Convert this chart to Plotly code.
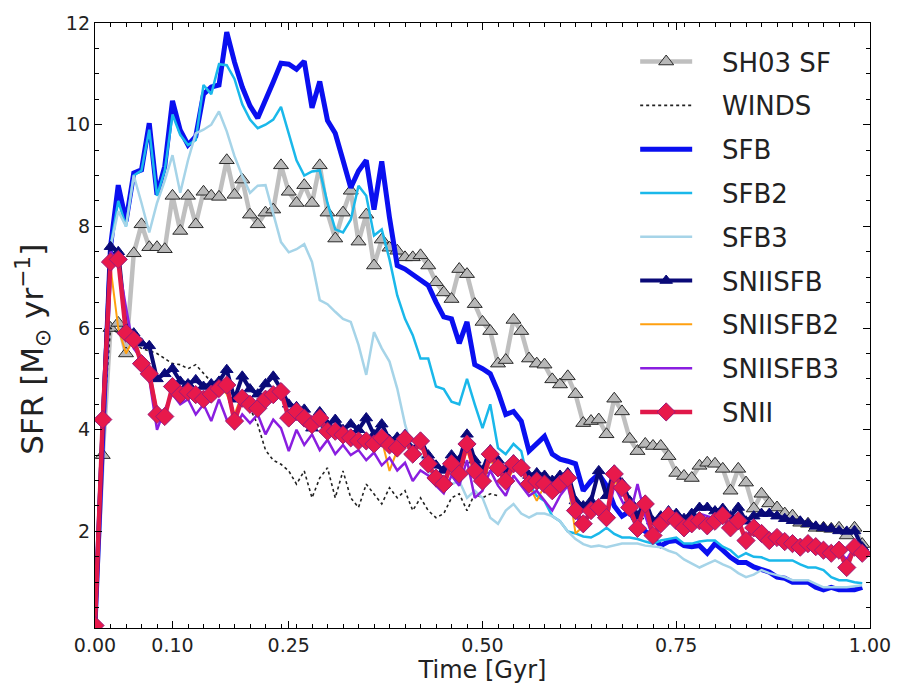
import numpy as np
import plotly.graph_objects as go

time = np.round(np.arange(100) * 0.01, 2)

sh03_sf = [0.2, 3.5, 6.0, 6.1, 5.5, 7.47, 8.04, 7.59, 7.59, 7.55,
           8.6, 7.91, 8.6, 8.04, 8.68, 8.6, 8.58, 9.3, 8.62, 8.92,
           8.23, 8.04, 8.27, 8.33, 9.2, 8.68, 8.46, 8.81, 8.46, 9.2,
           8.27, 7.76, 8.27, 8.7, 7.7, 8.23, 7.23, 7.74, 7.58, 7.52,
           7.39, 7.39, 7.43, 7.23, 6.9, 6.7, 6.57, 7.16, 7.06, 6.47,
           6.12, 5.94, 5.3, 5.37, 6.16, 5.94, 5.4, 5.3, 5.28, 4.99,
           4.89, 5.05, 4.7, 4.13, 4.17, 4.2, 3.91, 4.61, 4.36, 3.82,
           3.58, 3.72, 3.68, 3.68, 3.48, 3.15, 3.09, 3.05, 3.29, 3.35,
           3.33, 3.23, 2.8, 3.23, 2.96, 2.45, 2.74, 2.55, 2.47, 2.35,
           2.31, 2.17, 2.15, 2.07, 2.07, 2.05, 2.07, 1.92, 2.07, 1.75]

winds = [0.2, 4.0, 6.0, 5.9, 5.8, 5.7, 5.6, 5.55, 5.5, 5.4,
         5.3, 5.28, 5.2, 5.28, 5.1, 4.94, 4.88, 4.8, 4.68, 4.55,
         4.42, 4.1, 3.6, 3.4, 3.32, 3.19, 2.93, 3.19, 2.66, 3.05,
         3.25, 2.66, 3.19, 2.66, 2.47, 2.93, 2.74, 2.54, 2.86, 2.66,
         2.8, 2.41, 2.66, 2.41, 2.27, 2.35, 2.66, 2.74, 2.41, 2.74,
         2.66, 2.74, 2.7]

sfb = [0.15, 4.2, 7.6, 8.81, 8.1, 9.05, 9.11, 10.03, 8.62, 9.18,
       10.47, 9.89, 9.6, 9.77, 10.6, 10.74, 10.78, 11.82, 11.23, 10.74,
       10.37, 10.13, 10.47, 10.84, 11.21, 11.19, 11.09, 11.25, 10.33, 10.85,
       10.08, 9.83, 9.3, 8.76, 9.09, 9.3, 8.33, 9.28, 8.17, 7.23,
       7.16, 7.06, 6.96, 6.84, 6.51, 6.22, 6.18, 5.7, 6.12, 5.28,
       5.2, 5.1, 4.75, 4.3, 4.36, 4.17, 3.58, 3.74, 3.87, 3.52,
       3.42, 3.38, 3.33, 2.8, 2.99, 3.13, 2.9, 2.5, 2.3, 2.4,
       2.1, 2.0, 1.88, 1.72, 1.8, 1.82, 1.72, 1.7, 1.72, 1.57,
       1.76, 1.63, 1.49, 1.39, 1.39, 1.3, 1.24, 1.2, 1.1, 1.08,
       1.0, 1.0, 1.0, 0.9, 0.85, 0.9, 0.85, 0.85, 0.85, 0.9]

sfb2 = [0.15, 4.2, 7.6, 8.5, 8.0, 9.0, 9.1, 9.9, 8.6, 9.1,
        10.2, 9.8, 9.6, 9.7, 10.78, 10.6, 11.19, 11.17, 10.9, 10.4,
        10.1, 9.93, 10.0, 10.1, 10.35, 9.8, 9.3, 9.0, 9.08, 9.1,
        8.46, 7.94, 7.88, 8.13, 8.8, 8.6, 7.82, 7.94, 7.35, 6.64,
        6.18, 5.86, 5.4, 5.4, 4.85, 4.8, 4.55, 4.5, 5.0, 4.5,
        4.03, 4.5, 3.64, 3.52, 3.72, 3.58, 2.93, 2.7, 2.6, 2.3,
        2.2, 2.0, 1.96, 1.9, 1.88, 1.96, 2.07, 1.95, 1.88, 1.88,
        1.85, 1.8, 1.76, 1.82, 1.85, 1.88, 1.76, 1.76, 1.8, 1.82,
        1.82, 1.7, 1.63, 1.49, 1.57, 1.5, 1.49, 1.43, 1.43, 1.43,
        1.43, 1.35, 1.29, 1.29, 1.24, 1.1, 1.04, 1.04, 1.0, 0.98]

sfb3 = [0.15, 4.2, 7.6, 8.3, 8.0, 9.0, 8.46, 7.88, 8.46, 8.9,
        9.4, 8.66, 9.3, 9.83, 9.9, 10.0, 10.26, 9.87, 9.38, 8.99,
        8.66, 8.8, 8.81, 8.27, 7.69, 7.49, 7.55, 7.65, 7.3, 6.55,
        6.47, 6.32, 6.18, 6.12, 5.67, 5.08, 5.92, 5.6, 5.34, 4.81,
        4.11, 3.58, 3.52, 3.19, 2.99, 2.8, 2.93, 2.99, 2.66, 2.8,
        2.66, 2.27, 2.15, 2.41, 2.54, 2.35, 2.27, 2.35, 2.35, 2.3,
        2.2, 2.0, 1.85, 1.75, 1.7, 1.72, 1.69, 1.72, 1.76, 1.76,
        1.76, 1.72, 1.7, 1.69, 1.62, 1.57, 1.45, 1.37, 1.29, 1.36,
        1.43, 1.35, 1.29, 1.18, 1.1, 1.15, 1.24, 1.18, 1.14, 1.1,
        1.04, 1.04, 1.04, 0.97, 0.9, 0.9, 0.9, 0.9, 0.92, 0.94]

sniisfb = [0.15, 4.2, 7.6, 7.5, 6.0, 5.9, 5.7, 5.65, 5.0, 5.1,
           5.2, 4.95, 4.9, 4.98, 4.85, 4.9, 4.95, 5.18, 4.6, 5.05,
           4.8, 4.7, 4.9, 5.05, 4.8, 4.5, 4.45, 4.4, 4.03, 4.35,
           4.1, 4.2, 4.0, 4.11, 4.0, 4.23, 3.9, 4.11, 3.8, 3.85,
           3.9, 3.6, 3.8, 3.5, 3.3, 3.2, 3.5, 3.4, 3.91, 3.4,
           3.2, 3.6, 3.4, 3.2, 3.4, 3.3, 3.1, 3.15, 3.1, 3.0,
           3.1, 3.15, 2.6, 2.5, 2.6, 3.19, 2.7, 3.2, 2.95, 2.6,
           2.3, 2.6, 2.2, 2.3, 2.4, 2.35, 2.25, 2.35, 2.47, 2.47,
           2.4, 2.45, 2.3, 2.47, 2.2, 2.3, 2.35, 2.35, 2.3, 2.25,
           2.21, 2.2, 2.15, 2.1, 2.07, 2.05, 2.01, 2.0, 2.01, 1.69]

sniisfb2 = [0.15, 4.1, 7.2, 6.0, 5.5, 5.8, 5.4, 5.2, 4.4, 4.3,
            4.8, 4.6, 4.7, 4.6, 4.65, 4.75, 4.85, 4.7, 4.3, 4.7,
            4.55, 4.5, 4.65, 4.8, 4.7, 4.3, 4.3, 4.2, 4.0, 4.15,
            3.95, 3.9, 3.85, 3.8, 3.8, 3.7, 3.75, 3.8, 3.19, 3.6,
            3.75, 3.5, 3.7, 3.3, 3.0, 2.8, 3.3, 3.1, 3.6, 3.1,
            2.9, 3.4, 3.2, 2.9, 3.25, 3.2, 2.9, 2.6, 2.9, 2.75,
            2.9, 3.0, 1.96, 2.1, 2.35, 2.4, 2.2, 3.0, 2.8, 2.4,
            2.0, 2.5, 1.9, 2.1, 2.25, 2.2, 2.05, 2.1, 2.2, 2.1,
            2.2, 2.25, 2.0, 2.2, 1.8, 2.0, 1.95, 1.8, 1.85, 1.75,
            1.7, 1.65, 1.7, 1.65, 1.6, 1.55, 1.6, 1.3, 1.65, 1.55]

sniisfb3 = [0.15, 4.2, 7.5, 7.3, 6.4, 5.6, 5.4, 5.0, 4.0, 4.4,
            4.7, 4.5, 4.6, 4.3, 4.5, 4.17, 4.6, 4.2, 4.03, 4.3,
            4.13, 4.3, 3.91, 4.2, 4.03, 3.58, 4.0, 3.7, 3.91, 3.6,
            3.8, 3.52, 3.7, 3.5, 3.6, 3.4, 3.55, 3.3, 3.45, 3.2,
            3.35, 2.99, 3.2, 3.1, 2.9, 2.75, 3.1, 2.9, 3.4, 2.66,
            2.8, 3.2, 2.9, 2.7, 3.1, 2.9, 2.7, 2.8, 2.6, 2.41,
            2.7, 2.9, 2.3, 2.1, 2.4, 2.5, 2.2, 2.9, 2.6, 2.3,
            2.93, 2.3, 1.88, 2.1, 2.3, 2.15, 2.0, 2.2, 2.35, 2.3,
            2.25, 2.3, 2.0, 2.15, 1.9, 2.1, 2.0, 1.9, 2.0, 1.85,
            1.8, 1.75, 1.8, 1.7, 1.65, 1.7, 1.6, 1.45, 1.7, 1.6]

snii = [0.15, 4.2, 7.3, 7.35, 5.9, 5.77, 5.3, 5.1, 4.3, 4.26,
        4.85, 4.69, 4.75, 4.69, 4.6, 4.7, 4.81, 4.88, 4.17, 4.62,
        4.5, 4.42, 4.6, 4.69, 4.75, 4.23, 4.36, 4.23, 4.1, 4.23,
        3.97, 3.97, 3.9, 3.84, 3.78, 3.78, 3.72, 3.84, 3.7, 3.64,
        3.82, 3.52, 3.78, 3.33, 3.05, 2.93, 3.33, 3.13, 3.72, 3.19,
        2.99, 3.52, 3.25, 2.99, 3.33, 3.25, 2.93, 2.99, 2.93, 2.8,
        2.93, 3.05, 2.41, 2.15, 2.41, 2.47, 2.27, 3.13, 2.86, 2.47,
        2.06, 2.54, 1.92, 2.15, 2.31, 2.21, 2.07, 2.15, 2.21, 2.11,
        2.2, 2.31, 2.07, 2.21, 1.82, 2.07, 1.96, 1.82, 1.88, 1.8,
        1.76, 1.69, 1.76, 1.7, 1.63, 1.57, 1.63, 1.29, 1.69, 1.57]

x_tickvals = [0.0, 0.10, 0.25, 0.50, 0.75, 1.00]
x_ticktext = ["0.00", "0.10", "0.25", "0.50", "0.75", "1.00"]
y_tickvals = [2, 4, 6, 8, 10, 12]

PAD = "\u00a0\u00a0\u00a0"

fig = go.Figure()

def add(name, y, color, width, dash=None, marker=None):
    mode = "lines+markers" if marker else "lines"
    fig.add_trace(go.Scatter(
        x=time[:len(y)], y=y, name=PAD + name, mode=mode,
        line=dict(color=color, width=width, dash=dash),
        marker=marker, legendgroup=name,
    ))

add("SH03 SF", sh03_sf, "rgba(170,170,170,0.75)", 4.5,
    marker=dict(symbol="triangle-up", size=13, color="#b8b8b8",
                line=dict(color="#2a2a2a", width=1)))
add("WINDS", winds, "#222222", 1.6, dash="dot")
add("SFB", sfb, "#0a0ff0", 5)
add("SFB2", sfb2, "#1ab8ea", 2.5)
add("SFB3", sfb3, "#a6d4e8", 2.5)
add("SNIISFB", sniisfb, "#0a0a78", 4.0,
    marker=dict(symbol="triangle-up", size=11, color="#0a0a78",
                line=dict(color="#0a0a78", width=1)))
add("SNIISFB2", sniisfb2, "#ffa010", 2.0)
add("SNIISFB3", sniisfb3, "#8a1ee0", 2.5)
add("SNII", snii, "#e0184a", 4.5,
    marker=dict(symbol="diamond", size=14, color="#e8194b",
                line=dict(color="#9b1a78", width=1)))

axis_common = dict(
    showline=True, linecolor="black", linewidth=1.3, mirror="allticks",
    ticks="inside", ticklen=7, tickwidth=1, tickcolor="black",
    showgrid=False, zeroline=False,
    tickfont=dict(family="DejaVu Sans", size=19, color="#222"),
)

fig.update_xaxes(
    range=[0, 1.0], tickmode="array", tickvals=x_tickvals, ticktext=x_ticktext,
    minor=dict(ticks="inside", ticklen=4, dtick=0.02, tick0=0, tickcolor="black"),
    title=dict(text="Time [Gyr]", font=dict(family="DejaVu Sans", size=24, color="#222"),
               standoff=3),
    **axis_common,
)
fig.update_yaxes(
    range=[0.1, 12], tickmode="array", tickvals=y_tickvals,
    minor=dict(ticks="inside", ticklen=4, dtick=0.5, tick0=0, tickcolor="black"),
    **axis_common,
)

fig.update_layout(
    width=903, height=690,
    margin=dict(l=95, r=24, t=19, b=62),
    plot_bgcolor="white", paper_bgcolor="white",
    showlegend=True,
    legend=dict(
        x=0.697, y=0.975, xanchor="left", yanchor="top",
        bgcolor="rgba(0,0,0,0)", borderwidth=0,
        font=dict(family="DejaVu Sans", size=26, color="#222"),
        itemwidth=52, tracegroupgap=7, traceorder="grouped",
    ),
    annotations=[dict(
        text="SFR [M<sub>⊙</sub> yr<sup>−1</sup>]", textangle=-90,
        xref="paper", yref="paper", x=-0.08, y=0.46,
        xanchor="center", yanchor="middle", showarrow=False,
        font=dict(family="DejaVu Sans", size=31, color="#222"),
    )],
)

fig.write_html("out.html")
